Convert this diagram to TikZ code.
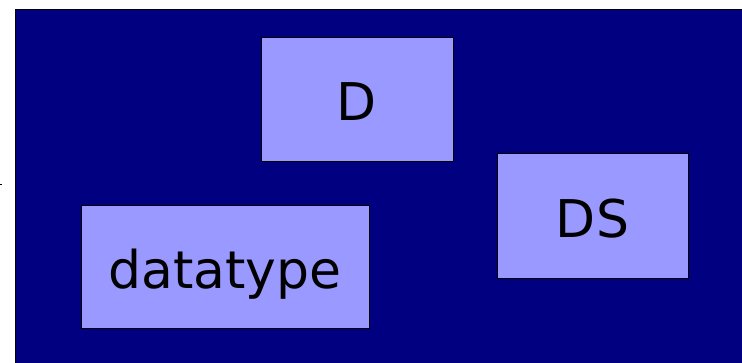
\documentclass[tikz,border=0pt]{standalone}
\usepackage{fontspec}
\setmainfont{DejaVu Sans}
\usepackage{tikz}
\usetikzlibrary{positioning}
\definecolor{slidenavy}{RGB}{0,0,128}
\definecolor{boxlilac}{RGB}{153,153,255}

\begin{document}
\begin{tikzpicture}[
  x=1pt, y=-1pt,
  box/.style={rectangle, draw=black, line width=1pt, fill=boxlilac,
              inner sep=0pt, text height=42pt, text depth=0pt,
              font=\fontsize{52}{60}\selectfont},
  panel/.style={draw=black, line width=0.8pt, fill=slidenavy}
]
  \useasboundingbox (0,0) rectangle (742,363);
  \fill[white] (0,0) rectangle (742,363);
  \draw[panel] (15,9) rectangle (745,366);
  \draw[black, line width=0.8pt] (0,184.5) -- (2,184.5);

  \node[box, minimum width=192pt, minimum height=124pt] (d)        at (357,100)   {D};
  \node[box, minimum width=191pt, minimum height=125pt] (ds)       at (592.5,216.5) {DS};
  \node[box, minimum width=288pt, minimum height=123pt] (datatype) at (225,267.5) {datatype};
\end{tikzpicture}
\end{document}
